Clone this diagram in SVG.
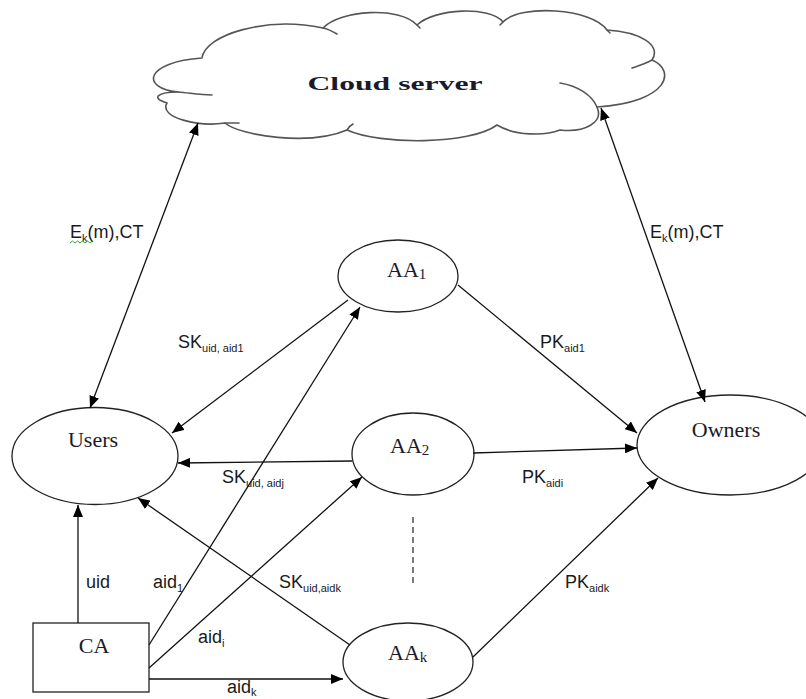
<svg xmlns="http://www.w3.org/2000/svg" width="806" height="699" viewBox="0 0 806 699">
<defs>
<style>
.node{fill:#fff;stroke:#222;stroke-width:1.3}
.cloud{fill:#fff;stroke:#555;stroke-width:1.6;stroke-linejoin:round}
.inner{fill:none;stroke:#555;stroke-width:1.6;stroke-linecap:round}
.edge{fill:none;stroke:#111;stroke-width:1.3}
.nt{font-family:"Liberation Serif","Times New Roman",serif;font-size:22px;fill:#1a1a2a}
.sub{font-size:15px}
.lbl{font-family:"Liberation Sans",Arial,sans-serif;font-size:18px;fill:#1a1a1a}
.ls{font-size:11px}
</style>
<marker id="ah" viewBox="0 0 12 10" refX="12" refY="5" markerWidth="12" markerHeight="10" markerUnits="userSpaceOnUse" orient="auto-start-reverse">
<path d="M0,0 L12,5 L0,10 z" fill="#000"/>
</marker>
</defs>
<rect width="806" height="699" fill="#fff"/>

<g id="cloud">
<path class="cloud" d="M202,58 C205,35 265,16 323,28 C340,10 400,6 417,25 C435,8 490,6 503,22 C520,4 592,8 607,30 C640,32 662,45 652,60 C676,70 670,102 597,107 C604,122 585,133 560,130 C545,136 515,136 497,125 C470,145 380,145 347,130 C310,146 240,136 225,123 C200,127 158,118 167,103 C150,98 158,92 178,92 C140,88 145,62 202,58 Z"/>
<path class="inner" d="M178,92 C190,93 200,95 212,95"/>
<path class="inner" d="M225,123 C230,123 233,123 239,123"/>
<path class="inner" d="M323,28 C328,29 332,31 337,34"/>
<path class="inner" d="M503,22 C502,23 501,24 500,25"/>
<path class="inner" d="M652,60 C645,64 638,66 632,68"/>
<path class="inner" d="M597,107 C592,95 578,86 560,83"/>
<path class="inner" d="M347,130 C349,127 351,125 353,124"/>
<path class="inner" d="M607,30 C608,31 609,32 610,33"/>
<path class="inner" d="M417,25 C418,26 419,27 420,28"/>
<text x="395" y="90" font-family="'Liberation Serif','Times New Roman',serif" font-size="18" font-weight="bold" fill="#1a1a2a" text-anchor="middle" textLength="175" lengthAdjust="spacingAndGlyphs">Cloud server</text>
</g>

<g id="users">
<ellipse class="node" cx="95" cy="456" rx="83" ry="48.5"/>
<text class="nt" x="93" y="447" text-anchor="middle">Users</text>
</g>

<g id="owners">
<ellipse class="node" cx="730" cy="445" rx="93" ry="50"/>
<text class="nt" x="726" y="437" text-anchor="middle">Owners</text>
</g>

<g id="aa1">
<ellipse class="node" cx="398" cy="276" rx="60" ry="36"/>
<text class="nt" x="387" y="277">AA<tspan class="sub" dy="2">1</tspan></text>
</g>

<g id="aa2">
<ellipse class="node" cx="413" cy="454" rx="61" ry="41"/>
<text class="nt" x="390" y="453">AA<tspan class="sub" dy="2">2</tspan></text>
</g>

<g id="aak">
<ellipse class="node" cx="408" cy="662" rx="65" ry="39"/>
<text class="nt" x="388" y="660">AA<tspan class="sub" dy="2">k</tspan></text>
</g>

<g id="ca">
<rect class="node" x="33" y="623" width="116" height="69"/>
<text class="nt" x="94" y="653" text-anchor="middle">CA</text>
</g>

<g id="ellipsis">
<line x1="413" y1="517" x2="413" y2="587" stroke="#333" stroke-width="1.3" stroke-dasharray="6,4"/>
</g>

<g id="connectors">
<path class="edge" d="M198,123 L90,408" marker-start="url(#ah)" marker-end="url(#ah)"/>
<path class="edge" d="M601,108 L705,402" marker-start="url(#ah)" marker-end="url(#ah)"/>
<path class="edge" d="M348,300 L172,433" marker-end="url(#ah)"/>
<path class="edge" d="M352,461 L178,463" marker-end="url(#ah)"/>
<path class="edge" d="M350,645 L138,498" marker-end="url(#ah)"/>
<path class="edge" d="M78,623 L78,505" marker-end="url(#ah)"/>
<path class="edge" d="M149,645 L360,307" marker-end="url(#ah)"/>
<path class="edge" d="M149,668 L362,477" marker-end="url(#ah)"/>
<path class="edge" d="M149,679 L343,679" marker-end="url(#ah)"/>
<path class="edge" d="M458,285 L637,433" marker-end="url(#ah)"/>
<path class="edge" d="M473,453 L637,448" marker-end="url(#ah)"/>
<path class="edge" d="M473,657 L658,478" marker-end="url(#ah)"/>
</g>

<g id="labels">
<text class="lbl" x="70" y="238">E<tspan class="ls" dy="4">k</tspan><tspan dy="-4">(m),CT</tspan></text>
<path d="M70,243 l2.5,-2 l2.5,2 l2.5,-2 l2.5,2 l2.5,-2 l2.5,2 l2.5,-2 l2.5,2 l2.5,-2" fill="none" stroke="#3a3" stroke-width="1"/>
<text class="lbl" x="650" y="238">E<tspan class="ls" dy="4">k</tspan><tspan dy="-4">(m),CT</tspan></text>
<text class="lbl" x="178" y="348">SK<tspan class="ls" dy="4">uid, aid1</tspan></text>
<text class="lbl" x="222" y="483">SK<tspan class="ls" dy="4">uid, aidj</tspan></text>
<text class="lbl" x="279" y="588">SK<tspan class="ls" dy="4">uid,aidk</tspan></text>
<text class="lbl" x="86" y="588">uid</text>
<text class="lbl" x="153" y="588">aid<tspan class="ls" dy="4">1</tspan></text>
<text class="lbl" x="198" y="643">aid<tspan class="ls" dy="4">i</tspan></text>
<text class="lbl" x="227" y="693">aid<tspan class="ls" dy="3">k</tspan></text>
<text class="lbl" x="540" y="348">PK<tspan class="ls" dy="4">aid1</tspan></text>
<text class="lbl" x="522" y="483">PK<tspan class="ls" dy="4">aidi</tspan></text>
<text class="lbl" x="565" y="588">PK<tspan class="ls" dy="4">aidk</tspan></text>
</g>
</svg>
